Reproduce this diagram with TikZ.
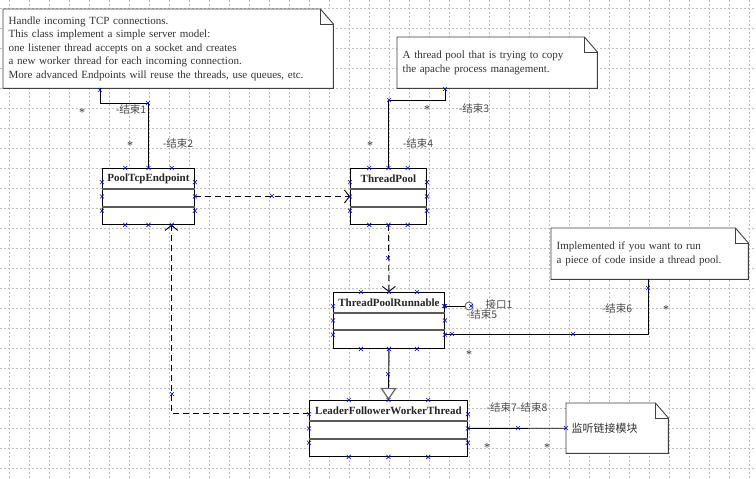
\documentclass[tikz,border=0pt]{standalone}
\usepackage{fontspec}
\setmainfont{Liberation Serif}
\newfontfamily\cjk{Noto Sans CJK SC}
\usetikzlibrary{arrows.meta,calc}

\tikzset{
  umlclass/.style={draw, fill=white, anchor=north west, minimum height=56pt, inner sep=0pt, line width=0.9pt},
  title/.style={font=\fontsize{11}{13}\selectfont\bfseries, text=black!85, inner sep=0pt},
  sepline/.style={line width=1.5pt, black!65},
  notebox/.style={anchor=north west, fill=white, inner xsep=5.5pt, inner ysep=0pt, align=left,
    font=\fontsize{11}{13.5}\selectfont, text=black!80},
  noteline/.style={draw=black!75, line width=0.9pt},
  conn/.style={line width=0.9pt},
  dep/.style={conn, dash pattern=on 6pt off 4pt, -{Straight Barb[length=5pt,width=13pt]}},
  role/.style={font=\cjk\fontsize{10.5}{12}\selectfont, text=black!70, inner sep=0pt},
  mult/.style={font=\fontsize{12}{12}\selectfont, text=black!80, inner sep=0pt},
  gridline/.style={black!25, line width=0.5pt, dash pattern=on 2pt off 2pt},
  handle/.style={blue, line width=0.6pt},
}

\newcommand{\notefold}[1]{%
  \draw[noteline] (#1.north west) -- ([xshift=-13pt]#1.north east) -- ([yshift=-15pt]#1.north east)
    -- (#1.south east) -- (#1.south west) -- cycle;
  \draw[noteline] ([xshift=-13pt]#1.north east) |- ([yshift=-15pt]#1.north east);}
\newcommand{\hd}[1]{\draw[handle] #1 ++(-2,-2) -- ++(4,4) ++(-4,0) -- ++(4,-4);}

\begin{document}
\begin{tikzpicture}[x=1pt,y=-1pt]
  \useasboundingbox (0,0) rectangle (756,479);
  \fill[white] (0,0) rectangle (756,479);
  \foreach \x in {9,29,...,749} \draw[gridline] (\x,0) -- (\x,479);
  \foreach \y in {8.5,28.5,...,468.5} \draw[gridline] (0,\y) -- (756,\y);

  % notes
  \node[notebox, text width=319pt, minimum height=79pt] (n1) at (3,9)
    {Handle incoming TCP connections.\\
     This class implement a simple server model:\\
     one listener thread accepts on a socket and creates\\
     a new worker thread for each incoming connection.\\
     More advanced Endpoints will reuse the threads, use queues, etc.};
  \node[notebox, text width=189pt, minimum height=51pt] (n2) at (397,37)
    {A thread pool that is trying to copy\\ the apache process management.};
  \node[notebox, text width=186pt, minimum height=51pt] (n3) at (551,228)
    {Implemented if you want to run\\ a piece of code inside a thread pool.};
  \node[notebox, text width=91pt, minimum height=50pt, font=\cjk\fontsize{11}{13.5}\selectfont] (n4) at (566,403)
    {监听链接模块};
  \foreach \n in {n1,n2,n3,n4} {\notefold{\n}}

  % classes
  \node[umlclass, minimum width=92pt] (pte) at (102,168) {};
  \node[umlclass, minimum width=76pt] (tp) at (350,168) {};
  \node[umlclass, minimum width=111pt] (tpr) at (333,292) {};
  \node[umlclass, minimum width=158pt] (lfwt) at (309,400) {};
  \foreach \c/\s in {pte/39,tp/39,tpr/38,lfwt/39} {
    \draw[sepline] ([yshift=-21pt]\c.north west) -- ([yshift=-21pt]\c.north east);
    \draw[sepline] ([yshift=-\s pt]\c.north west) -- ([yshift=-\s pt]\c.north east);
  }
  \node[title] (pte-t) at ($(pte.north)+(0,11)$) {PoolTcpEndpoint};
  \node[title] (tp-t) at ($(tp.north)+(0,11)$) {ThreadPool};
  \node[title] (tpr-t) at ($(tpr.north)+(0,11)$) {ThreadPoolRunnable};
  \node[title] (lfwt-t) at ($(lfwt.north)+(0,11)$) {LeaderFollowerWorkerThread};

  % connectors
  \draw[conn] ([xshift=97pt]n1.south west) -- ++(0,15) -| (pte.north);
  \draw[conn] ([xshift=48pt]n2.south west) -- ++(0,12) -| (tp.north);
  \draw[dep] (pte.east) -- (tp.west);
  \draw[dep] (tp.south) -- (tpr.north);
  \node[circle, draw=black!60, fill=white, minimum size=8pt, inner sep=0pt, line width=0.9pt] (if1) at (469,306) {};
  \draw[conn] ([yshift=-14pt]tpr.north east) -- (if1);
  \draw[conn] ([xshift=97pt]n3.south west) |- ([yshift=-42pt]tpr.north east);
  \draw[conn, -{Triangle[length=12pt, width=16pt, line width=1.2pt, color=black!60, fill=white]}] (tpr.south) -- (lfwt.north);
  \draw[dep] ([yshift=-13pt]lfwt.north west) -| ([xshift=23pt]pte.south);
  \draw[conn] (lfwt.east) -- (n4.west);

  % role names and multiplicities
  \node[role] (r1) at (131,110) {-结束1};
  \node[role] (r2) at (178,144) {-结束2};
  \node[role] (r3) at (474,109) {-结束3};
  \node[role] (r4) at (418,144) {-结束4};
  \node[role] (i1) at (499,305) {接口1};
  \node[role] (r5) at (482,315) {-结束5};
  \node[role] (r6) at (617,309) {-结束6};
  \node[role] (r78) at (517,408) {-结束7-结束8};
  \node[mult] (m1) at (82,113) {*};
  \node[mult] (m2) at (130,146) {*};
  \node[mult] (m3) at (427,110) {*};
  \node[mult] (m4) at (370,146) {*};
  \node[mult] (m6) at (666,310) {*};
  \node[mult] (m5) at (469,355) {*};
  \node[mult] (m7) at (487,448) {*};
  \node[mult] (m8) at (547,448) {*};

  % selection handles
  \foreach \b in {pte,tp,tpr,lfwt} {
    \foreach \f in {0.25,0.5,0.75} {
      \hd{($(\b.north west)!\f!(\b.north east)$)}
      \hd{($(\b.south west)!\f!(\b.south east)$)}
      \hd{($(\b.north west)!\f!(\b.south west)$)}
      \hd{($(\b.north east)!\f!(\b.south east)$)}
    }
  }
  \foreach \p in {(100,90),(148,103),(445,89),(389,100),(272,196),(388,258),(648,288),(573,334),
                  (452,334),(388,374),(172,394),(518,428),(566,428),(471,306),(444,306)} {\hd{\p}}
\end{tikzpicture}
\end{document}
